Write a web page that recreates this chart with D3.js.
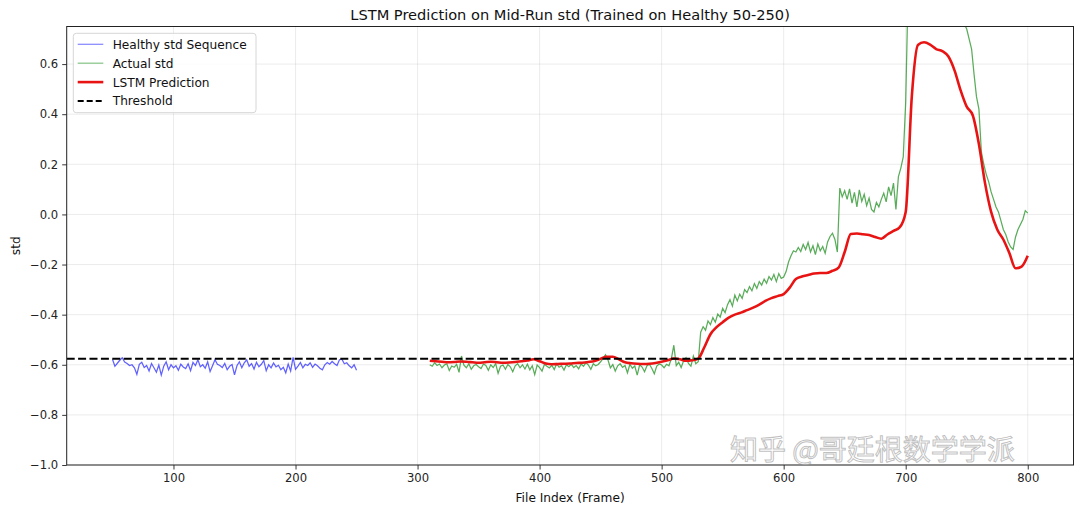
<!DOCTYPE html>
<html>
<head>
<meta charset="utf-8">
<script src="https://cdn.jsdelivr.net/npm/d3@7"></script>
<style>
    body { margin: 0; background: #ffffff; }
    svg { display: block; font-family: "DejaVu Sans", sans-serif; }
</style>
</head>
<body>
<svg id="chart" width="1080" height="513"></svg>
<script>

// healthy std sequence, frames 50..250 every 2nd frame
var healthyStart = 50, healthyStep = 2;
var healthyStd = [
    -0.578,-0.606,-0.594,-0.582,-0.572,-0.589,-0.595,-0.603,-0.600,-0.612,
    -0.638,-0.598,-0.590,-0.611,-0.603,-0.625,-0.595,-0.612,-0.630,-0.601,
    -0.641,-0.606,-0.588,-0.620,-0.600,-0.612,-0.604,-0.622,-0.598,-0.609,
    -0.615,-0.596,-0.624,-0.590,-0.603,-0.580,-0.608,-0.600,-0.614,-0.588,
    -0.627,-0.604,-0.580,-0.598,-0.603,-0.611,-0.595,-0.620,-0.606,-0.599,
    -0.640,-0.604,-0.588,-0.612,-0.592,-0.580,-0.606,-0.595,-0.617,-0.590,
    -0.608,-0.598,-0.583,-0.624,-0.600,-0.612,-0.593,-0.608,-0.602,-0.620,
    -0.610,-0.632,-0.597,-0.625,-0.570,-0.618,-0.605,-0.591,-0.612,-0.598,
    -0.603,-0.592,-0.610,-0.597,-0.604,-0.614,-0.620,-0.600,-0.591,-0.598,
    -0.587,-0.596,-0.603,-0.580,-0.578,-0.596,-0.592,-0.604,-0.612,-0.600,
    -0.622
];

// actual std on the mid-run, frames 310..800 every 2nd frame
var actualStart = 310, actualStep = 2;
var actualStd = [
    -0.600,-0.606,-0.592,-0.603,-0.597,-0.612,-0.601,-0.596,-0.623,-0.605,
    -0.610,-0.598,-0.630,-0.565,-0.602,-0.612,-0.596,-0.618,-0.604,-0.599,
    -0.608,-0.615,-0.597,-0.603,-0.622,-0.600,-0.611,-0.595,-0.634,-0.606,
    -0.601,-0.618,-0.599,-0.608,-0.628,-0.604,-0.596,-0.612,-0.600,-0.617,
    -0.598,-0.620,-0.604,-0.639,-0.601,-0.611,-0.625,-0.598,-0.606,-0.613,
    -0.602,-0.619,-0.596,-0.610,-0.604,-0.621,-0.600,-0.608,-0.598,-0.611,
    -0.603,-0.616,-0.597,-0.606,-0.592,-0.601,-0.618,-0.596,-0.604,-0.599,
    -0.588,-0.575,-0.560,-0.580,-0.612,-0.599,-0.625,-0.604,-0.596,-0.610,
    -0.603,-0.632,-0.598,-0.614,-0.605,-0.641,-0.600,-0.609,-0.628,-0.604,
    -0.598,-0.615,-0.636,-0.605,-0.597,-0.601,-0.612,-0.598,-0.604,-0.575,
    -0.522,-0.603,-0.590,-0.611,-0.584,-0.572,-0.595,-0.606,-0.565,-0.596,
    -0.588,-0.470,-0.448,-0.462,-0.425,-0.440,-0.412,-0.430,-0.398,-0.410,
    -0.375,-0.392,-0.360,-0.340,-0.366,-0.322,-0.345,-0.318,-0.335,-0.300,
    -0.312,-0.288,-0.305,-0.276,-0.295,-0.268,-0.282,-0.258,-0.275,-0.248,
    -0.262,-0.240,-0.268,-0.236,-0.255,-0.250,-0.228,-0.190,-0.165,-0.145,
    -0.150,-0.132,-0.148,-0.120,-0.140,-0.112,-0.150,-0.125,-0.160,-0.118,
    -0.145,-0.128,-0.155,-0.110,-0.088,-0.075,-0.100,-0.150, 0.105, 0.070,
     0.095, 0.060, 0.102, 0.045, 0.088, 0.030, 0.098, 0.052, 0.080, 0.035,
     0.065, 0.020, 0.010, 0.048, 0.030, 0.060, 0.085, 0.050, 0.110, 0.075,
     0.125, 0.020, 0.150, 0.185, 0.230, 0.450, 0.900, 1.020, 1.080, 1.050,
     1.120, 1.100, 1.150, 1.090, 1.130, 1.070, 1.110, 1.040, 1.080, 1.020,
     1.050, 0.980, 1.010, 0.950, 0.970, 0.900, 0.920, 0.860, 0.800, 0.760,
     0.740, 0.700, 0.660, 0.560, 0.470, 0.420, 0.250, 0.200, 0.160, 0.130,
     0.090, 0.060, 0.030, 0.010,-0.025,-0.060,-0.080,-0.110,-0.130,-0.140,
    -0.090,-0.060,-0.040,-0.020, 0.015, 0.005
];

// LSTM prediction, frames 310..800 every 5th frame
var predStart = 310, predStep = 5;
var predStd = [
    -0.584,-0.586,-0.588,-0.590,-0.589,-0.587,-0.588,-0.590,-0.592,-0.590,
    -0.588,-0.590,-0.592,-0.591,-0.589,-0.586,-0.583,-0.578,-0.586,-0.595,
    -0.598,-0.597,-0.596,-0.595,-0.593,-0.592,-0.589,-0.585,-0.576,-0.568,
    -0.568,-0.578,-0.590,-0.594,-0.596,-0.597,-0.596,-0.593,-0.588,-0.582,
    -0.575,-0.578,-0.584,-0.582,-0.575,-0.530,-0.478,-0.450,-0.430,-0.412,
    -0.400,-0.392,-0.382,-0.372,-0.360,-0.345,-0.334,-0.326,-0.318,-0.292,
    -0.258,-0.248,-0.242,-0.236,-0.234,-0.234,-0.225,-0.212,-0.150,-0.078,
    -0.076,-0.079,-0.082,-0.090,-0.097,-0.080,-0.066,-0.052, 0.010, 0.470,
     0.676, 0.687, 0.678, 0.660, 0.652, 0.630, 0.575, 0.495, 0.430, 0.395,
     0.280, 0.125, 0.010,-0.060,-0.100,-0.155,-0.215,-0.208,-0.165
];

var threshold = -0.576;

var xTicks = [100, 200, 300, 400, 500, 600, 700, 800];
var yTicks = [-1.0, -0.8, -0.6, -0.4, -0.2, 0.0, 0.2, 0.4, 0.6];

var legendLabels = ['Healthy std Sequence', 'Actual std', 'LSTM Prediction', 'Threshold'];

function toPoints(start, step, values) {
    return values.map(function(v, i) { return {x : start + i * step, y : v}; });
}

var svg = d3.select('#chart');

var plot = {left : 66.7, right : 1073.5, top : 26.5, bottom : 465};

var x = d3.scaleLinear().domain([12.5, 837.5]).range([plot.left, plot.right]);
var y = d3.scaleLinear().domain([-1, 0.75]).range([plot.bottom, plot.top]);

svg.append('defs').append('clipPath').attr('id', 'plotClip')
    .append('rect')
        .attr('x', plot.left)
        .attr('y', plot.top)
        .attr('width', plot.right - plot.left)
        .attr('height', plot.bottom - plot.top);

// grid
var grid = svg.append('g').attr('class', 'grid');
grid.selectAll('.vgrid').data(xTicks).enter().append('line')
    .attr('x1', function(d) { return x(d); })
    .attr('x2', function(d) { return x(d); })
    .attr('y1', plot.top).attr('y2', plot.bottom)
    .attr('stroke', '#b0b0b0').attr('stroke-opacity', 0.3).attr('stroke-width', 0.8);
grid.selectAll('.hgrid').data(yTicks).enter().append('line')
    .attr('y1', function(d) { return y(d); })
    .attr('y2', function(d) { return y(d); })
    .attr('x1', plot.left).attr('x2', plot.right)
    .attr('stroke', '#b0b0b0').attr('stroke-opacity', 0.3).attr('stroke-width', 0.8);

var line = d3.line()
    .x(function(d) { return x(d.x); })
    .y(function(d) { return y(d.y); });

// prediction is a smooth curve, the raw signals are not
var smoothLine = d3.line()
    .curve(d3.curveMonotoneX)
    .x(function(d) { return x(d.x); })
    .y(function(d) { return y(d.y); });

var lines = svg.append('g').attr('clip-path', 'url(#plotClip)');

lines.append('path')
    .datum(toPoints(healthyStart, healthyStep, healthyStd))
    .attr('d', line)
    .attr('fill', 'none')
    .attr('stroke', '#0000ff')
    .attr('stroke-opacity', 0.62)
    .attr('stroke-width', 1.25);

lines.append('path')
    .datum(toPoints(actualStart, actualStep, actualStd))
    .attr('d', line)
    .attr('fill', 'none')
    .attr('stroke', '#008000')
    .attr('stroke-opacity', 0.65)
    .attr('stroke-width', 1.25);

lines.append('path')
    .datum(toPoints(predStart, predStep, predStd))
    .attr('d', smoothLine)
    .attr('fill', 'none')
    .attr('stroke', '#e81414')
    .attr('stroke-width', 2.6)
    .attr('stroke-linejoin', 'round');

lines.append('line')
    .attr('x1', plot.left).attr('x2', plot.right)
    .attr('y1', y(threshold)).attr('y2', y(threshold))
    .attr('stroke', '#000000')
    .attr('stroke-width', 1.8)
    .attr('stroke-dasharray', '8,3.4');

// axes
var fmt = d3.format('.1f');

svg.append('g')
    .attr('transform', 'translate(0,' + plot.bottom + ')')
    .call(d3.axisBottom(x).tickValues(xTicks).tickSize(4.5).tickPadding(4).tickFormat(d3.format('d')))
    .call(function(g) {
        g.select('.domain').remove();
        g.selectAll('line').attr('stroke', '#222').attr('stroke-width', 0.9);
        g.selectAll('text').attr('font-size', '11.6px').attr('fill', '#222')
            .attr('font-family', '"DejaVu Sans", sans-serif');
    });

svg.append('g')
    .attr('transform', 'translate(' + plot.left + ',0)')
    .call(d3.axisLeft(y).tickValues(yTicks).tickSize(4.5).tickPadding(4).tickFormat(fmt))
    .call(function(g) {
        g.select('.domain').remove();
        g.selectAll('line').attr('stroke', '#222').attr('stroke-width', 0.9);
        g.selectAll('text').attr('font-size', '11.6px').attr('fill', '#222')
            .attr('font-family', '"DejaVu Sans", sans-serif');
    });

// frame
svg.append('rect')
    .attr('x', plot.left).attr('y', plot.top)
    .attr('width', plot.right - plot.left)
    .attr('height', plot.bottom - plot.top)
    .attr('fill', 'none')
    .attr('stroke', '#222')
    .attr('stroke-width', 1);

// titles
svg.append('text')
    .attr('x', (plot.left + plot.right) / 2)
    .attr('y', 20)
    .attr('text-anchor', 'middle')
    .attr('font-size', '14.6px')
    .attr('fill', '#111')
    .text('LSTM Prediction on Mid-Run std (Trained on Healthy 50-250)');

svg.append('text')
    .attr('x', (plot.left + plot.right) / 2)
    .attr('y', 502)
    .attr('text-anchor', 'middle')
    .attr('font-size', '12.2px')
    .attr('fill', '#111')
    .text('File Index (Frame)');

svg.append('text')
    .attr('transform', 'translate(20,' + ((plot.top + plot.bottom) / 2) + ') rotate(-90)')
    .attr('text-anchor', 'middle')
    .attr('font-size', '12.2px')
    .attr('fill', '#111')
    .text('std');

// legend
var legendStyles = [
    {stroke : '#0000ff', opacity : 0.45, width : 1.3, dash : null},
    {stroke : '#008000', opacity : 0.45, width : 1.3, dash : null},
    {stroke : '#e81414', opacity : 1, width : 2.6, dash : null},
    {stroke : '#000000', opacity : 1, width : 1.8, dash : '6,3'}
];

var legend = svg.append('g').attr('transform', 'translate(73.3,33.3)');

legend.append('rect')
    .attr('width', 182.7)
    .attr('height', 79.4)
    .attr('rx', 3)
    .attr('fill', '#ffffff')
    .attr('fill-opacity', 0.8)
    .attr('stroke', '#d6d6d6')
    .attr('stroke-width', 1);

var rows = legend.selectAll('.row').data(legendLabels).enter().append('g')
    .attr('transform', function(d, i) { return 'translate(0,' + (11 + i * 18.9) + ')'; });

rows.append('line')
    .attr('x1', 4.4).attr('x2', 30)
    .attr('y1', 0).attr('y2', 0)
    .attr('stroke', function(d, i) { return legendStyles[i].stroke; })
    .attr('stroke-opacity', function(d, i) { return legendStyles[i].opacity; })
    .attr('stroke-width', function(d, i) { return legendStyles[i].width; })
    .attr('stroke-dasharray', function(d, i) { return legendStyles[i].dash; });

rows.append('text')
    .attr('x', 39.4)
    .attr('y', 0)
    .attr('dy', '0.36em')
    .attr('font-size', '12.2px')
    .attr('fill', '#111')
    .text(function(d) { return d; });

// site watermark in the lower right corner, kept just above the tick labels
svg.append('text')
    .attr('x', 730)
    .attr('y', 460)
    .attr('font-family', '"Noto Sans CJK SC", sans-serif')
    .attr('font-size', '28px')
    .attr('fill', '#ffffff')
    .attr('fill-opacity', 0.55)
    .attr('stroke', '#8a8a8a')
    .attr('stroke-opacity', 0.55)
    .attr('stroke-width', 1)
    .text('知乎 @哥廷根数学学派');

</script>
</body>
</html>
